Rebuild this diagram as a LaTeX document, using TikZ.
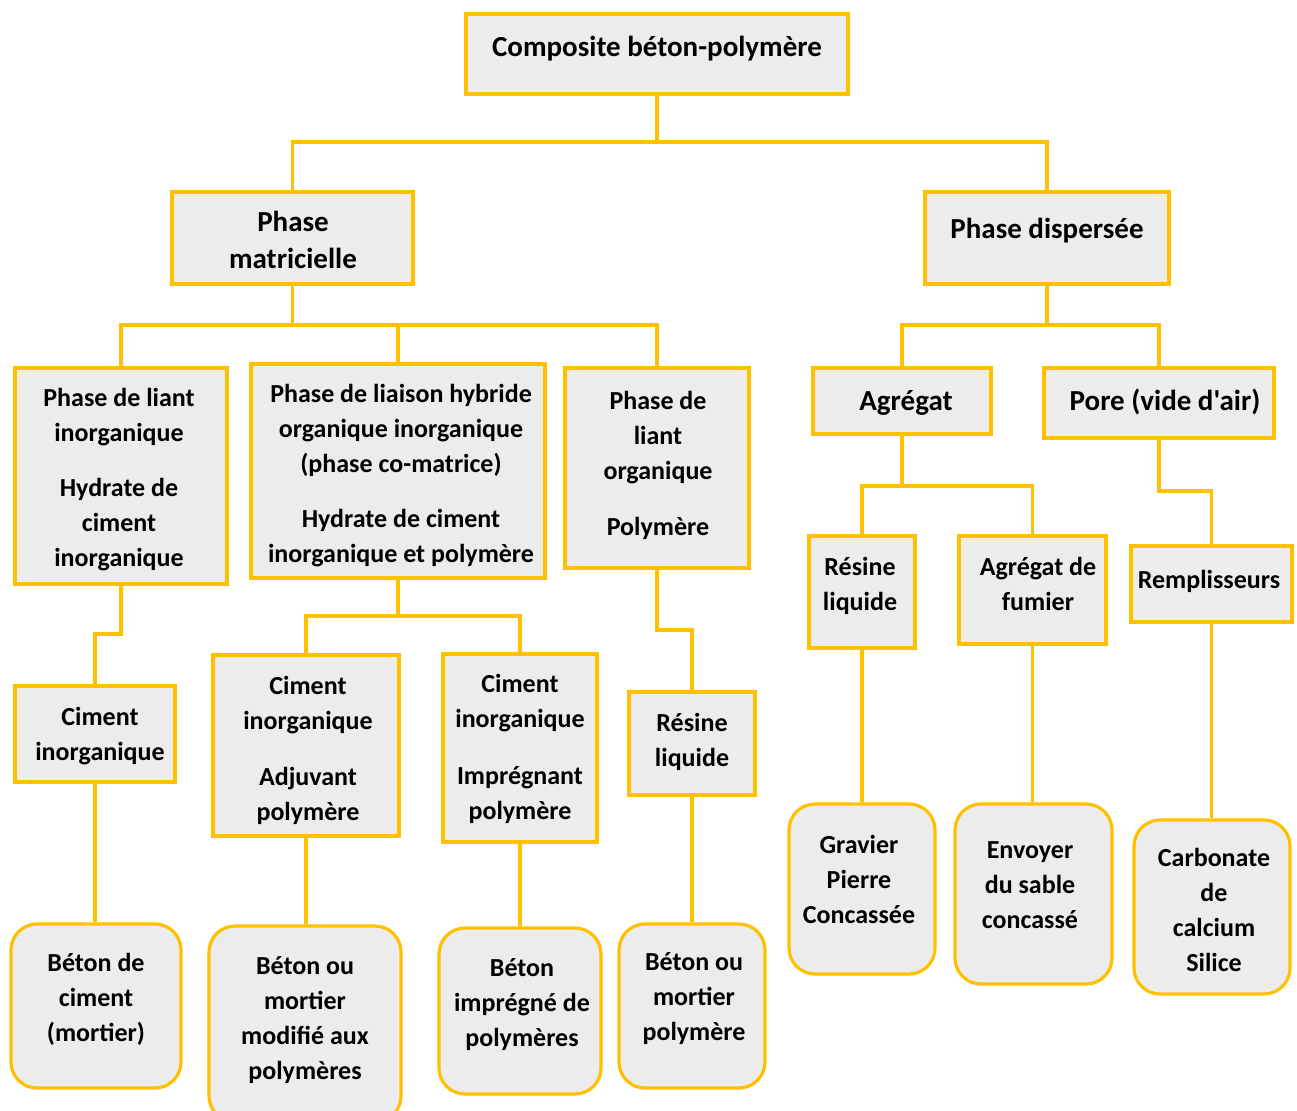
\documentclass[tikz,border=0pt]{standalone}
\usepackage{fontspec}
\setmainfont{Carlito}[Ligatures=TeXOff]
\definecolor{gold}{HTML}{FFC000}
\definecolor{boxfill}{HTML}{ECECEC}
\begin{document}
\begin{tikzpicture}[x=1pt,y=-1pt,
  box/.style={draw=gold,fill=boxfill,line width=3.5pt,inner sep=0pt,rectangle},
  rbox/.style={box,rounded corners=26pt,line width=3.2pt},
  lnk/.style={draw=gold,line width=3.5pt},
  txtbase/.style={align=center,inner sep=0pt,
     execute at begin node={\strut},execute at end node={\strut}},
  txt/.style={txtbase,yshift=-6pt,font=\bfseries\fontsize{26}{35}\selectfont},
  big/.style={txtbase,yshift=-4pt,font=\bfseries\fontsize{29}{37}\selectfont}]
\path[use as bounding box,fill=white] (0,0) rectangle (1297,1110);
% levels
\coordinate (L1) at (0,142);
\coordinate (L2) at (0,325);
\coordinate (L3) at (0,634);
\coordinate (L4) at (0,616);
\coordinate (L5) at (0,630);
\coordinate (L6) at (0,486);
\coordinate (L7) at (0,491);
% boxes
\node[box,minimum width=382,minimum height=80] (top) at (657,54) {};
\node[box,minimum width=241,minimum height=92] (pm) at (292.5,238) {};
\node[box,minimum width=244,minimum height=92] (pd) at (1047,238) {};
\node[box,minimum width=212,minimum height=216] (li) at (121,476) {};
\node[box,minimum width=294,minimum height=214] (hy) at (398,471) {};
\node[box,minimum width=184,minimum height=200] (lo) at (657,468) {};
\node[box,minimum width=178,minimum height=66] (ag) at (902,401) {};
\node[box,minimum width=230,minimum height=70] (po) at (1159,403) {};
\node[box,minimum width=160,minimum height=96] (ci) at (95,734) {};
\node[box,minimum width=186,minimum height=181] (ca) at (306,745.5) {};
\node[box,minimum width=154,minimum height=188] (cm) at (520,748) {};
\node[box,minimum width=126,minimum height=103] (rl) at (692,743.5) {};
\node[box,minimum width=106,minimum height=112] (rr) at (862,592) {};
\node[box,minimum width=147,minimum height=108] (af) at (1032.5,590) {};
\node[box,minimum width=161,minimum height=76] (re) at (1211.5,584) {};
\node[rbox,minimum width=170,minimum height=164] (b1) at (96,1006) {};
\node[rbox,minimum width=192,minimum height=196] (b2) at (305,1024) {};
\node[rbox,minimum width=162,minimum height=166] (b3) at (520,1011) {};
\node[rbox,minimum width=146,minimum height=164] (b4) at (692,1006) {};
\node[rbox,minimum width=146,minimum height=170] (b5) at (862,889) {};
\node[rbox,minimum width=157,minimum height=180] (b6) at (1033.5,894) {};
\node[rbox,minimum width=156,minimum height=174] (b7) at (1212,907) {};
% connectors
\draw[lnk] (top.south) -- (top.south |- L1);
\draw[lnk] (pm.north) -- (pm.north |- L1) -| (pd.north);
\draw[lnk] (pm.south) -- (pm.south |- L2);
\draw[lnk] (li.north) -- (li.north |- L2) -| (lo.north);
\draw[lnk] (hy.north) -- (hy.north |- L2);
\draw[lnk] (pd.south) -- (pd.south |- L2);
\draw[lnk] (ag.north) -- (ag.north |- L2) -| (po.north);
\draw[lnk] (li.south) -- (li.south |- L3) -| (ci.north);
\draw[lnk] (hy.south) -- (hy.south |- L4);
\draw[lnk] (ca.north) -- (ca.north |- L4) -| (cm.north);
\draw[lnk] (lo.south) -- (lo.south |- L5) -| (rl.north);
\draw[lnk] (ag.south) -- (ag.south |- L6);
\draw[lnk] (rr.north) -- (rr.north |- L6) -| (af.north);
\draw[lnk] (po.south) -- (po.south |- L7) -| (re.north);
\draw[lnk] (ci.south) -- (ci.south |- b1.north);
\draw[lnk] (ca.south) -- (ca.south |- b2.north);
\draw[lnk] (cm.south) -- (cm.south |- b3.north);
\draw[lnk] (rl.south) -- (rl.south |- b4.north);
\draw[lnk] (rr.south) -- (rr.south |- b5.north);
\draw[lnk] (af.south) -- (af.south |- b6.north);
\draw[lnk] (re.south) -- (re.south |- b7.north);
% texts
\node[big] (ttop) at (657,45) {Composite béton-polymère};
\node[big] (tpm) at (293,241.5) {Phase\\matricielle};
\node[big] (tpd) at (1047,227) {Phase dispersée};
\node[txt] (tli) at (119,477) {Phase de liant\\inorganique\\[20pt]Hydrate de\\ciment\\inorganique};
\node[txt] (thy) at (401,473) {Phase de liaison hybride\\organique inorganique\\(phase co-matrice)\\[20pt]Hydrate de ciment\\inorganique et polymère};
\node[txt] (tlo) at (658,462.5) {Phase de\\liant\\organique\\[21pt]Polymère};
\node[big] (tag) at (906,399) {Agrégat};
\node[big] (tpo) at (1165,399) {Pore (vide d'air)};
\node[txt] (tci) at (100,733.5) {Ciment\\inorganique};
\node[txt] (tca) at (308,747.5) {Ciment\\inorganique\\[21pt]Adjuvant\\polymère};
\node[txt] (tcm) at (520,746.5) {Ciment\\inorganique\\[22pt]Imprégnant\\polymère};
\node[txt] (trl) at (692,739.5) {Résine\\liquide};
\node[txt] (trr) at (860,583.5) {Résine\\liquide};
\node[txt] (taf) at (1038,583.5) {Agrégat de\\fumier};
\node[txt] (tre) at (1209,575) {Remplisseurs};
\node[txt] (tb1) at (96,997) {Béton de\\ciment\\(mortier)};
\node[txt] (tb2) at (305,1017.5) {Béton ou\\mortier\\modifié aux\\polymères};
\node[txt] (tb3) at (522,1001.5) {Béton\\imprégné de\\polymères};
\node[txt] (tb4) at (694,996) {Béton ou\\mortier\\polymère};
\node[txt] (tb5) at (859,879) {Gravier\\Pierre\\Concassée};
\node[txt] (tb6) at (1030,884) {Envoyer\\du sable\\concassé};
\node[txt] (tb7) at (1214,909.5) {Carbonate\\de\\calcium\\Silice};
\end{tikzpicture}
\end{document}
